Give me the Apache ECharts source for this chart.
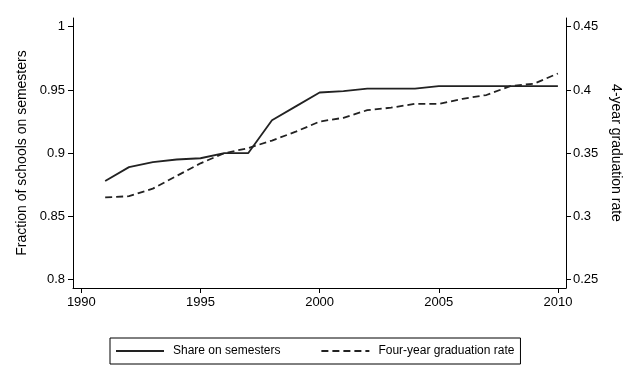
<!DOCTYPE html>
<html><head><meta charset="utf-8">
<script src="https://cdn.jsdelivr.net/npm/echarts@6/dist/echarts.min.js"></script>
<style>html,body{margin:0;padding:0;background:#fff}#c{width:639px;height:380px}</style>
</head><body><div id="c"></div>
<script>
const years = [1991,1992,1993,1994,1995,1996,1997,1998,1999,2000,2001,2002,2003,2004,2005,2006,2007,2008,2009,2010];
const shareSemesters = [0.878,0.889,0.893,0.895,0.896,0.900,0.900,0.926,0.937,0.948,0.949,0.951,0.951,0.951,0.953,0.953,0.953,0.953,0.953,0.953];
const gradRate = [0.315,0.316,0.322,0.332,0.342,0.350,0.354,0.360,0.367,0.375,0.378,0.384,0.386,0.389,0.389,0.393,0.396,0.403,0.405,0.413];
const xTicks = [1990,1995,2000,2005,2010];
const leftTicks = [0.8,0.85,0.9,0.95,1];
const rightTicks = [0.25,0.3,0.35,0.4,0.45];

const font = 'Liberation Sans, Arial, Helvetica, sans-serif';
const chart = echarts.init(document.getElementById('c'), null, {renderer:'canvas'});
chart.setOption({
  animation:false,
  backgroundColor:'#fff',
  textStyle:{fontFamily:font},
  grid:{left:73,right:73,top:18,bottom:92,containLabel:false},
  legend:{
    left:110, top:338, padding:[7,6,7,5],
    borderColor:'#000', borderWidth:1, borderRadius:0,
    itemWidth:48, itemHeight:12, itemGap:40,
    itemStyle:{opacity:0},
    textStyle:{fontSize:12,color:'#000',fontFamily:font,padding:[0,0,0,4]},
    data:['Share on semesters','Four-year graduation rate']
  },
  xAxis:{
    type:'value', min:1989.65, max:2010.34,
    axisLine:{show:true,lineStyle:{color:'#000',width:1}},
    axisTick:{show:true,length:5,lineStyle:{color:'#000'},customValues:xTicks},
    axisLabel:{color:'#000',fontSize:13,margin:8,customValues:xTicks,formatter:v=>String(v)},
    splitLine:{show:false}
  },
  yAxis:[{
    type:'value', position:'left', min:0.7934, max:1.0069,
    name:'Fraction of schools on semesters', nameLocation:'middle', nameGap:42, nameRotate:90,
    nameTextStyle:{fontSize:14,color:'#000',fontFamily:font},
    axisLine:{show:true,lineStyle:{color:'#000',width:1}},
    axisTick:{show:true,length:5,lineStyle:{color:'#000'},customValues:leftTicks},
    axisLabel:{color:'#000',fontSize:13,margin:8,customValues:leftTicks,formatter:v=>String(+v.toFixed(2))},
    splitLine:{show:false}
  },{
    type:'value', position:'right', min:0.2434, max:0.4569,
    name:'4-year graduation rate', nameLocation:'middle', nameGap:40, nameRotate:-90,
    nameTextStyle:{fontSize:14,color:'#000',fontFamily:font},
    axisLine:{show:true,lineStyle:{color:'#000',width:1}},
    axisTick:{show:true,length:5,lineStyle:{color:'#000'},customValues:rightTicks},
    axisLabel:{color:'#000',fontSize:13,margin:7,customValues:rightTicks,formatter:v=>String(+v.toFixed(2))},
    splitLine:{show:false}
  }],
  series:[{
    name:'Share on semesters', type:'line', yAxisIndex:0, symbol:'none',
    data:years.map((y,i)=>[y,shareSemesters[i]]),
    lineStyle:{color:'#222',width:1.8,type:'solid'},
    itemStyle:{color:'#222'}
  },{
    name:'Four-year graduation rate', type:'line', yAxisIndex:1, symbol:'none',
    data:years.map((y,i)=>[y,gradRate[i]]),
    lineStyle:{color:'#222',width:1.8,type:[7,4]},
    itemStyle:{color:'#222'}
  }]
});
</script></body></html>
